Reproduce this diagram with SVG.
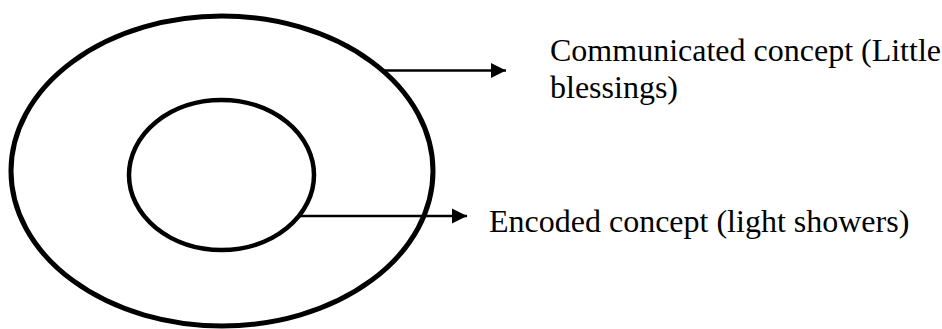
<svg xmlns="http://www.w3.org/2000/svg" width="942" height="329" viewBox="0 0 942 329">
<style>
.shape{fill:none;stroke:#000;}
.conn{fill:none;stroke:#000;stroke-width:2.5;}
.label{font-family:"Liberation Serif","Times New Roman",serif;font-size:32px;fill:#000;}
</style>
<defs>
<marker id="arrow" markerUnits="userSpaceOnUse" markerWidth="16" markerHeight="16" refX="15" refY="8" orient="auto">
<path d="M0,0.5 L15,8 L0,15.5 Z" fill="#000"/>
</marker>
</defs>
<rect width="942" height="329" fill="#fff"/>
<g id="outer">
<ellipse class="shape" cx="222" cy="171" rx="211" ry="155" stroke-width="5"/>
</g>
<g id="inner">
<ellipse class="shape" cx="221.5" cy="175" rx="92.5" ry="75" stroke-width="4.5"/>
</g>
<g id="connectors">
<line class="conn" x1="382" y1="70.5" x2="506" y2="70.5" marker-end="url(#arrow)"/>
<line class="conn" x1="300" y1="216" x2="467" y2="216" marker-end="url(#arrow)"/>
</g>
<g id="label-communicated">
<text class="label" x="550" y="61">Communicated concept (Little</text>
<text class="label" x="550" y="98">blessings)</text>
</g>
<g id="label-encoded">
<text class="label" x="489" y="232">Encoded concept (light showers)</text>
</g>
</svg>
